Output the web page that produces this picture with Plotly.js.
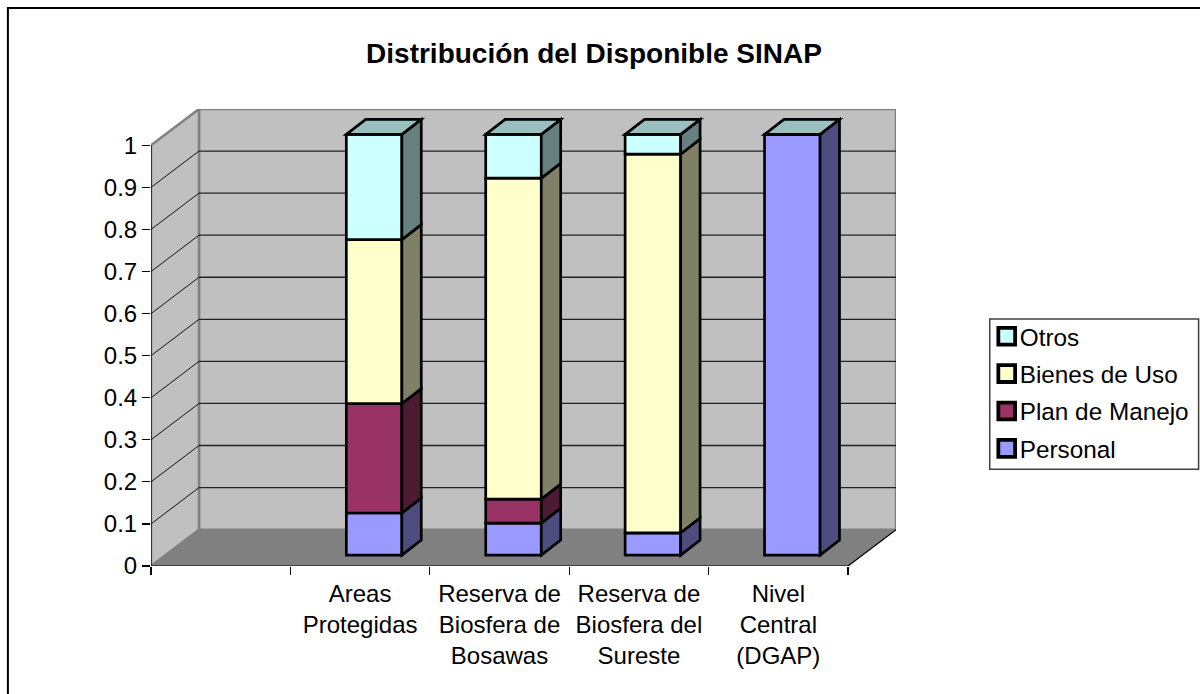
<!DOCTYPE html>
<html>
<head>
<meta charset="utf-8">
<script src="https://cdn.plot.ly/plotly-3.0.1.min.js"></script>
<style>html,body{margin:0;padding:0;background:#fff;overflow:hidden}</style>
</head>
<body>
<div id="chart" style="width:1200px;height:694px"></div>
<script>
// ---- data ----
var categories = ["", "Areas<br>Protegidas", "Reserva de<br>Biosfera de<br>Bosawas", "Reserva de<br>Biosfera del<br>Sureste", "Nivel<br>Central<br>(DGAP)"];
var personal = [null, 0.10, 0.076, 0.053, 1.0];
var planManejo = [null, 0.26, 0.057, 0, 0];
var bienesUso = [null, 0.39, 0.763, 0.90, 0];
var otros = [null, 0.25, 0.104, 0.047, 0];
var seriesNames = ["Personal", "Plan de Manejo", "Bienes de Uso", "Otros"];
var seriesValues = [personal, planManejo, bienesUso, otros];
var frontColors = ["#9999FF", "#993366", "#FFFFCC", "#CCFFFF"];
var sideColors = ["#4D4D80", "#4D1A33", "#808066", "#668080"];
var topColor = "#99BFBF";
var yTicks = [0, 0.1, 0.2, 0.3, 0.4, 0.5, 0.6, 0.7, 0.8, 0.9, 1];
var xTickEdges = [0, 1, 2, 3, 4, 5];

// ---- layout geometry (page pixels) ----
var W = 1200, H = 694;
var x0 = 150.7, xUnit = 139.5, y0 = 565.7, yUnit = 420;
var wallDx = 48 / xUnit, wallDy = 36.3 / yUnit;
var barShiftX = 14 / xUnit, barShiftY = 10.9 / yUnit;
var barDx = 19.4 / xUnit, barDy = 15 / yUnit;
var barWidth = 55.6 / xUnit;
var barLine = 2.7;
var xMax = 5 + wallDx, yMax = 1 + wallDy;
var mL = x0, mB = H - y0, mR = W - (x0 + xMax * xUnit), mT = y0 - yMax * yUnit;
var paperX = function (p) { return (p - mL) / (W - mL - mR); };
var paperY = function (p) { return (H - mB - p) / (H - mT - mB); };

var poly = function (pts) {
  return "M" + pts.map(function (p) { return p[0] + "," + p[1]; }).join("L") + "Z";
};
var face = function (pts, fill, lineColor, lineWidth, layer) {
  return { type: "path", xref: "x", yref: "y", path: poly(pts), fillcolor: fill,
           line: { color: lineColor, width: lineWidth }, layer: layer };
};
var seg = function (a, b, color, width, layer) {
  return { type: "line", xref: "x", yref: "y", x0: a[0], y0: a[1], x1: b[0], y1: b[1],
           line: { color: color, width: width }, layer: layer };
};

var shapes = [];
// walls and floor
shapes.push(face([[wallDx, wallDy], [xMax, wallDy], [xMax, yMax], [wallDx, yMax]], "#C0C0C0", "#808080", 2.5, "below"));
shapes.push(face([[0, 0], [wallDx, wallDy], [wallDx, yMax], [0, 1]], "#C0C0C0", "#808080", 2.5, "below"));
shapes.push(face([[0, 0], [5, 0], [xMax, wallDy], [wallDx, wallDy]], "#808080", "#808080", 1, "below"));
// gridlines on the walls
yTicks.slice(1, -1).forEach(function (v) {
  shapes.push(seg([0, v], [wallDx, v + wallDy], "#111111", 1, "below"));
  shapes.push(seg([wallDx, v + wallDy], [xMax, v + wallDy], "#222222", 1.3, "below"));
});
// axis lines
shapes.push(seg([0, 0], [0, 1], "#000000", 1.2, "below"));
shapes.push(seg([0, 0], [5, 0], "#000000", 1.2, "below"));
shapes.push(seg([5, 0], [xMax, wallDy], "#000000", 1.2, "below"));

// stacked bars: front faces are bar traces, sides and tops are drawn from the same values
var barX = [], traces = [];
categories.forEach(function (c, i) { barX.push(i + 0.5 + barShiftX); });
var running = categories.map(function () { return barShiftY; });
seriesValues.forEach(function (vals, s) {
  var base = running.slice();
  vals.forEach(function (v, i) {
    if (v === null) return;
    if (v > 0) {
      var xr = barX[i] + barWidth / 2, b = base[i], t = base[i] + v;
      shapes.push(face([[xr, b], [xr + barDx, b + barDy], [xr + barDx, t + barDy], [xr, t]], sideColors[s], "#000000", barLine, "above"));
    }
    running[i] = base[i] + v;
  });
  traces.push({
    type: "bar", name: seriesNames[s], x: barX, y: vals, base: base, width: barWidth,
    marker: { color: frontColors[s], line: { color: "#000000", width: barLine } },
    legendgroup: seriesNames[s], legendrank: seriesNames.length - s, hoverinfo: "skip"
  });
});
running.forEach(function (t, i) {
  if (seriesValues[0][i] === null) return;
  var xl = barX[i] - barWidth / 2, xr = barX[i] + barWidth / 2;
  shapes.push(face([[xl, t], [xr, t], [xr + barDx, t + barDy], [xl + barDx, t + barDy]], topColor, "#000000", barLine, "above"));
});

// outer chart frame (open to the right and bottom edge of the page)
shapes.push({ type: "path", xref: "paper", yref: "paper",
  path: "M" + paperX(7.5) + "," + paperY(H + 5) + "L" + paperX(7.5) + "," + paperY(8.5) + "L" + paperX(W + 5) + "," + paperY(8.5),
  line: { color: "#000000", width: 2 }, fillcolor: "rgba(0,0,0,0)", layer: "below" });
// legend box
shapes.push({ type: "path", xref: "paper", yref: "paper",
  path: "M" + paperX(1199) + "," + paperY(319) + "L" + paperX(990) + "," + paperY(319) + "L" + paperX(990) + "," + paperY(469) + "L" + paperX(1199) + "," + paperY(469) + "Z",
  line: { color: "#404040", width: 1.5 }, fillcolor: "rgba(0,0,0,0)", layer: "below" });

var font = "'Liberation Sans', Arial, sans-serif";
var layout = {
  width: W, height: H, paper_bgcolor: "#FFFFFF", plot_bgcolor: "rgba(0,0,0,0)",
  margin: { l: mL, r: mR, t: mT, b: mB, autoexpand: false },
  barmode: "overlay", bargap: 0,
  font: { family: font, size: 24, color: "#000000" },
  title: { text: "<b>Distribución del Disponible SINAP</b>", font: { family: font, size: 28, color: "#000000" },
           x: 594 / W, xanchor: "center", y: 1 - 53 / H, yanchor: "middle" },
  xaxis: { type: "linear", range: [0, xMax], showgrid: false, zeroline: false, showline: false,
           tickmode: "array", tickvals: categories.map(function (c, i) { return i + 0.5; }), ticktext: categories,
           ticks: "", tickangle: 0, ticklabelstandoff: 11,
           tickfont: { family: font, size: 24, color: "#000000" },
           minor: { tickmode: "array", tickvals: xTickEdges, ticks: "outside", ticklen: 8, tickwidth: 1.2, tickcolor: "#000000", showgrid: false } },
  yaxis: { range: [0, yMax], showgrid: false, zeroline: false, showline: false,
           tickmode: "array", tickvals: yTicks, ticktext: yTicks.map(String),
           ticks: "outside", ticklen: 8, tickwidth: 1.2, tickcolor: "#000000",
           tickfont: { family: font, size: 24, color: "#000000" } },
  showlegend: true,
  legend: { x: paperX(990), xref: "paper", xanchor: "left", y: paperY(314), yanchor: "top",
            traceorder: "grouped", tracegroupgap: 2.8, bgcolor: "rgba(0,0,0,0)",
            borderwidth: 0, font: { family: font, size: 24.3, color: "#000000" },
            itemclick: false, itemdoubleclick: false },
  shapes: shapes
};
Plotly.newPlot("chart", traces, layout, { displayModeBar: false, staticPlot: true }).then(function () {
  // tighten the legend entries: bigger swatch, closer to its label
  document.querySelectorAll("#chart .legend .traces").forEach(function (g) {
    var sym = g.querySelector(".legendsymbols");
    var txt = g.querySelector("text.legendtext");
    if (sym) sym.setAttribute("transform", "translate(-11,0) scale(1.4)");
    if (txt) txt.setAttribute("x", parseFloat(txt.getAttribute("x")) - 10);
  });
});
</script>
</body>
</html>
